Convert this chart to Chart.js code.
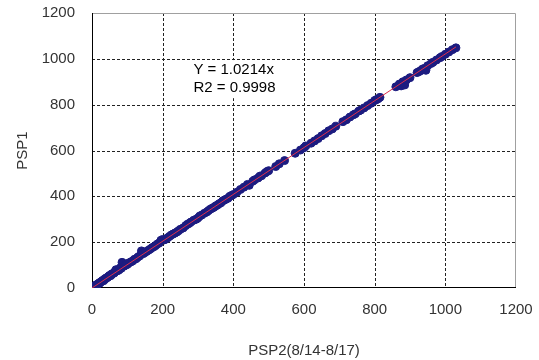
<!DOCTYPE html>
<html>
<head>
<meta charset="utf-8">
<script src="https://cdn.jsdelivr.net/npm/chart.js@4/dist/chart.umd.min.js"></script>
<style>
  html, body { margin: 0; padding: 0; background: #fff; }
</style>
</head>
<body>
<canvas id="grafico" width="539" height="360"></canvas>
<script>
// PSP2 (eje x) y PSP1 (eje y)
const psp2 = [5, 8, 10, 12, 15, 18, 20, 22, 25, 28, 30, 33, 35, 38, 40, 43, 45, 48, 50, 53, 55, 58, 60, 63, 65, 68, 70, 73, 75, 78, 80, 83, 85, 88, 90, 93, 95, 98, 100, 105, 110, 115, 120, 125, 130, 135, 140, 143, 145, 150, 155, 160, 165, 170, 175, 180, 185, 190, 195, 200, 205, 210, 215, 220, 225, 230, 235, 240, 245, 250, 258, 265, 270, 275, 280, 288, 295, 300, 305, 310, 318, 325, 330, 335, 340, 345, 350, 355, 360, 365, 370, 375, 380, 385, 390, 395, 400, 410, 420, 430, 440, 445, 455, 460, 470, 475, 480, 490, 495, 500, 520, 530, 545, 575, 590, 600, 605, 620, 630, 640, 650, 660, 670, 680, 690, 710, 720, 730, 740, 745, 755, 760, 770, 780, 790, 800, 805, 810, 815, 860, 870, 875, 880, 885, 890, 900, 920, 925, 930, 935, 940, 945, 950, 960, 965, 975, 985, 990, 1000, 1010, 1020, 1030];
const psp1 = [6, 9, 10, 14, 14, 19, 22, 21, 27, 29, 33, 32, 38, 40, 44, 45, 48, 52, 55, 54, 60, 62, 64, 66, 72, 80, 74, 78, 77, 82, 88, 86, 112, 108, 95, 98, 100, 104, 103, 110, 114, 118, 125, 128, 135, 140, 162, 158, 150, 155, 160, 165, 170, 176, 180, 185, 192, 196, 208, 212, 210, 215, 220, 226, 232, 236, 240, 244, 250, 256, 262, 272, 278, 282, 288, 296, 300, 306, 314, 318, 326, 332, 338, 344, 348, 352, 358, 362, 368, 372, 380, 384, 388, 392, 400, 404, 408, 418, 430, 440, 452, 448, 466, 472, 480, 488, 490, 502, 508, 512, 530, 542, 556, 588, 602, 612, 620, 632, 642, 652, 664, 674, 686, 694, 706, 726, 734, 746, 756, 760, 772, 776, 786, 796, 806, 818, 822, 826, 832, 878, 890, 882, 900, 886, 908, 918, 940, 944, 948, 955, 958, 950, 970, 980, 985, 995, 1005, 1010, 1020, 1030, 1040, 1048];
const pendiente = 1.0214;
const r2 = 0.9998;
const xMaxLinea = 1030;
const ticksEje = [0, 200, 400, 600, 800, 1000, 1200];

const puntos = psp2.map((x, i) => ({ x: x, y: psp1[i] }));
const linea = [{ x: 0, y: 0 }, { x: xMaxLinea, y: pendiente * xMaxLinea }];

const fuente = "'Liberation Sans', Arial, sans-serif";

// grilla punteada y marco gris arriba/derecha
const grilla = {
    id: 'grilla',
    beforeDatasetsDraw(chart) {
        const a = chart.chartArea;
        const ctx = chart.ctx;
        const xs = chart.scales.x, ys = chart.scales.y;
        ctx.save();
        ctx.lineWidth = 1;
        ctx.strokeStyle = '#222';
        ctx.setLineDash([3, 2]);
        ticksEje.slice(1, -1).forEach(v => {
            const px = Math.round(xs.getPixelForValue(v)) + 0.5;
            ctx.beginPath();
            ctx.moveTo(px, a.top);
            ctx.lineTo(px, a.bottom);
            ctx.stroke();
            const py = Math.round(ys.getPixelForValue(v)) + 0.5;
            ctx.beginPath();
            ctx.moveTo(a.left, py);
            ctx.lineTo(a.right, py);
            ctx.stroke();
        });
        ctx.setLineDash([]);
        ctx.strokeStyle = '#a0a0a0';
        ctx.beginPath();
        ctx.moveTo(a.left, a.top + 0.5);
        ctx.lineTo(a.right - 0.5, a.top + 0.5);
        ctx.lineTo(a.right - 0.5, a.bottom);
        ctx.stroke();
        ctx.strokeStyle = '#000';
        ctx.beginPath();
        ctx.moveTo(a.left + 0.5, a.top);
        ctx.lineTo(a.left + 0.5, a.bottom - 0.5);
        ctx.lineTo(a.right, a.bottom - 0.5);
        ctx.stroke();
        ctx.restore();
    }
};

const ecuacion = {
    id: 'ecuacion',
    afterDatasetsDraw(chart) {
        const ctx = chart.ctx;
        const xs = chart.scales.x, ys = chart.scales.y;
        const x0 = xs.getPixelForValue(287);
        const y1 = ys.getPixelForValue(951);
        const y2 = ys.getPixelForValue(872);
        ctx.save();
        ctx.font = '15px ' + fuente;
        const t1 = 'Y = ' + pendiente + 'x';
        const t2 = 'R2 = ' + r2;
        const w = Math.max(ctx.measureText(t1).width, ctx.measureText(t2).width);
        ctx.fillStyle = '#fff';
        ctx.fillRect(x0 - 3, y1 - 10, w + 6, y2 - y1 + 20);
        ctx.fillStyle = '#000';
        ctx.textBaseline = 'middle';
        ctx.fillText(t1, x0, y1);
        ctx.fillText(t2, x0, y2);
        ctx.restore();
    }
};

const ctx = document.getElementById('grafico').getContext('2d');
new Chart(ctx, {
    type: 'scatter',
    data: {
        datasets: [{
            type: 'line',
            label: 'Tendencia',
            data: linea,
            borderColor: '#e0304a',
            borderWidth: 1,
            pointRadius: 0,
            fill: false
        }, {
            label: 'PSP1',
            data: puntos,
            backgroundColor: '#1c1c80',
            borderColor: '#1c1c80',
            pointRadius: 4,
            pointHoverRadius: 4
        }]
    },
    options: {
        responsive: false,
        animation: false,
        layout: { padding: { top: 13, right: 23, left: 0, bottom: 0 } },
        plugins: { legend: { display: false }, tooltip: { enabled: false } },
        scales: {
            x: {
                type: 'linear',
                min: 0, max: 1200,
                afterBuildTicks: s => { s.ticks = ticksEje.map(v => ({ value: v })); },
                afterFit: s => { s.height = 72; s.paddingLeft = 0; s.paddingRight = 0; },
                ticks: { color: '#333', font: { family: fuente, size: 15 }, padding: 5, maxRotation: 0, callback: v => String(v) },
                grid: { display: false },
                border: { display: false },
                title: { display: true, text: 'PSP2(8/14-8/17)', color: '#333', font: { family: fuente, size: 15 }, padding: { top: 22, bottom: 0 } }
            },
            y: {
                type: 'linear',
                min: 0, max: 1200,
                afterBuildTicks: s => { s.ticks = ticksEje.map(v => ({ value: v })); },
                afterFit: s => { s.width = 92; s.paddingTop = 0; s.paddingBottom = 0; },
                ticks: { color: '#333', font: { family: fuente, size: 15 }, padding: 9, callback: v => String(v) },
                grid: { display: false },
                border: { display: false },
                title: { display: true, text: 'PSP1', color: '#333', font: { family: fuente, size: 15 }, padding: { top: 14, bottom: 4 } }
            }
        }
    },
    plugins: [grilla, ecuacion]
});
</script>
</body>
</html>
